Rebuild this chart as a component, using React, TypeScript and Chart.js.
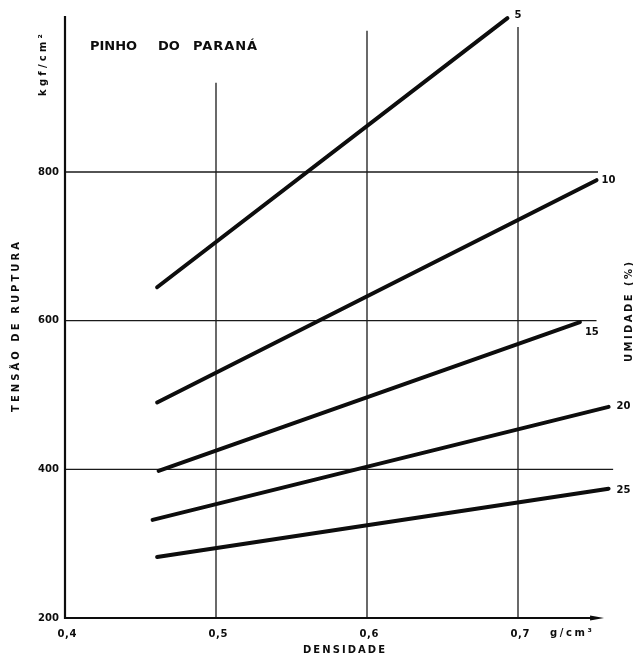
import React, { useEffect, useRef } from "react";
import { Chart, registerables } from "chart.js";

Chart.register(...registerables);

// ---- data ----
const seriesLabels = ["5", "10", "15", "20", "25"];
const startDensity = [0.461, 0.461, 0.462, 0.458, 0.461];
const startTension = [645, 490, 398, 332, 282];
const endDensity = [0.693, 0.752, 0.741, 0.76, 0.76];
const endTension = [1007, 789, 598, 484, 374];

const xTicks = [0.4, 0.5, 0.6, 0.7];
const xTickLabels = ["0,4", "0,5", "0,6", "0,7"];
const yTicks = [200, 400, 600, 800];
const yTickLabels = ["200", "400", "600", "800"];

// grid extents (values)
const vGridValues = [0.5, 0.6, 0.7];
const vGridTop = [920, 990, 995];
const hGridValues = [400, 600, 800];
const hGridEnd = [0.763, 0.752, 0.753];

const title = ["PINHO", "DO", "PARANÁ"];
const yTitle = "TENSÃO DE RUPTURA";
const yUnit = "kgf/cm²";
const xTitle = "DENSIDADE";
const xUnit = "g/cm³";
const rightTitle = "UMIDADE (%)";

// label offsets in px (style)
const labelOffsets = [
  [7, -3],
  [5, 0],
  [5, 10],
  [8, 0],
  [8, 2],
];

const FONT = '"DejaVu Sans", "Liberation Sans", Arial, sans-serif';
const INK = "#0d0d0d";

export default function App() {
  const ref = useRef<HTMLCanvasElement | null>(null);

  useEffect(() => {
    const canvas = ref.current;
    if (!canvas) return;

    const datasets = seriesLabels.map((lab, i) => ({
      label: lab,
      data: [
        { x: startDensity[i], y: startTension[i] },
        { x: endDensity[i], y: endTension[i] },
      ],
      showLine: true,
      borderColor: INK,
      backgroundColor: INK,
      borderWidth: 4,
      pointRadius: 0,
      borderCapStyle: "round" as const,
    }));

    // draw text stretched (via letter spacing) to a target length
    const fitText = (
      ctx: CanvasRenderingContext2D,
      txt: string,
      x: number,
      y: number,
      target: number,
      align: "left" | "center"
    ) => {
      (ctx as any).letterSpacing = "0px";
      const w = ctx.measureText(txt).width;
      const n = Math.max(1, txt.length - 1);
      const sp = Math.max(0, (target - w) / n);
      (ctx as any).letterSpacing = `${sp}px`;
      ctx.textAlign = "left";
      const startX = align === "center" ? x - target / 2 : x;
      ctx.fillText(txt, startX, y);
      (ctx as any).letterSpacing = "0px";
    };

    const decor = {
      id: "decor",
      beforeDatasetsDraw(chart: any) {
        const ctx = chart.ctx as CanvasRenderingContext2D;
        const xs = chart.scales.x;
        const ys = chart.scales.y;
        ctx.save();
        ctx.strokeStyle = "#1a1a1a";
        ctx.lineWidth = 1.3;
        vGridValues.forEach((v, i) => {
          const px = xs.getPixelForValue(v);
          ctx.beginPath();
          ctx.moveTo(px, ys.getPixelForValue(200));
          ctx.lineTo(px, ys.getPixelForValue(vGridTop[i]));
          ctx.stroke();
        });
        hGridValues.forEach((v, i) => {
          const py = ys.getPixelForValue(v);
          ctx.beginPath();
          ctx.moveTo(xs.getPixelForValue(0.4), py);
          ctx.lineTo(xs.getPixelForValue(hGridEnd[i]), py);
          ctx.stroke();
        });
        ctx.lineWidth = 2.2;
        ctx.strokeStyle = INK;
        const x0 = xs.getPixelForValue(0.4);
        const y0 = ys.getPixelForValue(200);
        ctx.beginPath();
        ctx.moveTo(x0, y0 + 1);
        ctx.lineTo(x0, ys.getPixelForValue(1010));
        ctx.stroke();
        const xEnd = xs.getPixelForValue(0.757);
        ctx.beginPath();
        ctx.moveTo(x0 - 1, y0);
        ctx.lineTo(xEnd - 6, y0);
        ctx.stroke();
        ctx.fillStyle = INK;
        ctx.beginPath();
        ctx.moveTo(xEnd, y0);
        ctx.lineTo(xEnd - 14, y0 - 2.5);
        ctx.lineTo(xEnd - 14, y0 + 2.5);
        ctx.closePath();
        ctx.fill();
        ctx.restore();
      },
      afterDraw(chart: any) {
        const ctx = chart.ctx as CanvasRenderingContext2D;
        const xs = chart.scales.x;
        const ys = chart.scales.y;
        ctx.save();
        ctx.fillStyle = INK;
        ctx.textBaseline = "middle";
        ctx.font = `bold 10px ${FONT}`;
        // x ticks
        xTicks.forEach((v, i) => {
          fitText(ctx, xTickLabels[i], xs.getPixelForValue(v) + 2, 634, 19, "center");
        });
        // y ticks
        yTicks.forEach((v, i) => {
          fitText(ctx, yTickLabels[i], xs.getPixelForValue(0.4) - 27, ys.getPixelForValue(v), 20, "left");
        });
        // x unit / title
        ctx.font = `bold 10px ${FONT}`;
        fitText(ctx, xUnit, 550, 633, 42, "left");
        fitText(ctx, xTitle, 344, 650, 82, "center");

        // title
        ctx.font = `bold 13px ${FONT}`;
        fitText(ctx, title[0], 90, 47, 45, "left");
        fitText(ctx, title[1], 158, 47, 19, "left");
        fitText(ctx, title[2], 193, 47, 64, "left");

        // rotated texts
        const rot = (txt: string, cx: number, cy: number, len: number, size: number) => {
          ctx.save();
          ctx.translate(cx, cy);
          ctx.rotate(-Math.PI / 2);
          ctx.font = `bold ${size}px ${FONT}`;
          ctx.textBaseline = "middle";
          fitText(ctx, txt, 0, 0, len, "center");
          ctx.restore();
        };
        rot(yTitle, 16, 327, 170, 10);
        rot(yUnit, 43, 65, 62, 10);
        rot(rightTitle, 629, 312, 100, 10);

        // series labels
        ctx.font = `bold 10px ${FONT}`;
        ctx.textAlign = "left";
        seriesLabels.forEach((lab, i) => {
          const px = xs.getPixelForValue(endDensity[i]) + labelOffsets[i][0];
          const py = ys.getPixelForValue(endTension[i]) + labelOffsets[i][1];
          ctx.fillText(lab, px, py);
        });
        ctx.restore();
      },
    };

    const chart = new Chart(canvas, {
      type: "scatter",
      data: { datasets },
      options: {
        animation: false,
        responsive: false,
        maintainAspectRatio: false,
        layout: { padding: { left: 65, right: 1.75, top: 8.5, bottom: 43 } },
        plugins: { legend: { display: false }, tooltip: { enabled: false } },
        scales: {
          x: { type: "linear", min: 0.4, max: 0.775, display: false },
          y: { type: "linear", min: 200, max: 1020, display: false },
        },
      },
      plugins: [decor],
    });
    return () => chart.destroy();
  }, []);

  return (
    <div style={{ position: "absolute", left: 0, top: 0, width: 633, height: 661, background: "#fff" }}>
      <canvas ref={ref} width={633} height={661} style={{ display: "block" }} />
    </div>
  );
}
